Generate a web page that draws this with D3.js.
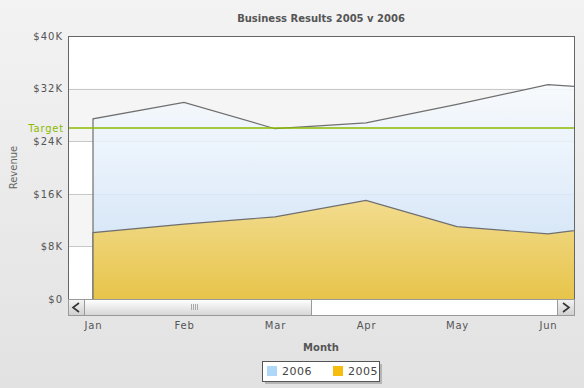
<!DOCTYPE html>
<html>
<head>
<meta charset="utf-8">
<script src="https://cdn.jsdelivr.net/npm/d3@7"></script>
<style>
  body { margin: 0; }
  svg { display: block; font-family: "DejaVu Sans", Verdana, sans-serif; }
</style>
</head>
<body>
<svg id="chart"></svg>
<script>
// Data (revenue in dollars)
const months = ["Jan", "Feb", "Mar", "Apr", "May", "Jun", "Jul"];
const revenue2006 = [27400, 29900, 25900, 26800, 29600, 32600, 31700];
const revenue2005 = [10100, 11400, 12500, 15000, 11000, 9900, 11600];
const targetValue = 26000;
const yTicks = [0, 8000, 16000, 24000, 32000, 40000];
const seriesNames = ["2006", "2005"];
const seriesColors = ["#AFD8F8", "#F6BD0F"];

const width = 584;
const height = 388;
const plot = { left: 68, right: 574, top: 36, bottom: 299 };
const step = 91;
const firstX = 93;

const svg = d3.select("#chart")
    .attr("width", width)
    .attr("height", height);

const defs = svg.append("defs");

// page background
const bg = defs.append("linearGradient").attr("id", "bg")
    .attr("x1", 0).attr("y1", 0).attr("x2", 0).attr("y2", 1);
bg.append("stop").attr("offset", "0%").attr("stop-color", "#f3f3f3");
bg.append("stop").attr("offset", "100%").attr("stop-color", "#e2e2e2");
svg.append("rect").attr("width", width).attr("height", height).attr("fill", "url(#bg)");

// area gradients
const g06 = defs.append("linearGradient").attr("id", "g06")
    .attr("x1", 0).attr("y1", 0).attr("x2", 0).attr("y2", 1);
g06.append("stop").attr("offset", "0%").attr("stop-color", "#f8fbfe");
g06.append("stop").attr("offset", "100%").attr("stop-color", "#c3dbf5");

const g05 = defs.append("linearGradient").attr("id", "g05")
    .attr("x1", 0).attr("y1", 0).attr("x2", 0).attr("y2", 1);
g05.append("stop").attr("offset", "0%").attr("stop-color", "#f2dc8e");
g05.append("stop").attr("offset", "100%").attr("stop-color", "#e7c44a");

const thumbGrad = defs.append("linearGradient").attr("id", "thumb")
    .attr("x1", 0).attr("y1", 0).attr("x2", 0).attr("y2", 1);
thumbGrad.append("stop").attr("offset", "0%").attr("stop-color", "#ffffff");
thumbGrad.append("stop").attr("offset", "100%").attr("stop-color", "#d6d6d6");

const btnGrad = defs.append("linearGradient").attr("id", "btn")
    .attr("x1", 0).attr("y1", 0).attr("x2", 0).attr("y2", 1);
btnGrad.append("stop").attr("offset", "0%").attr("stop-color", "#f4f4f4");
btnGrad.append("stop").attr("offset", "100%").attr("stop-color", "#cfcfcf");

defs.append("clipPath").attr("id", "plotClip")
    .append("rect")
    .attr("x", plot.left).attr("y", plot.top)
    .attr("width", plot.right - plot.left).attr("height", plot.bottom - plot.top);

// Scales
const x = d3.scalePoint()
    .domain(months)
    .range([firstX, firstX + step * (months.length - 1)]);

const y = d3.scaleLinear()
    .domain([0, 40000])
    .range([plot.bottom, plot.top]);

// Plot background bands
svg.append("rect")
    .attr("x", plot.left).attr("y", plot.top)
    .attr("width", plot.right - plot.left).attr("height", plot.bottom - plot.top)
    .attr("fill", "#ffffff");

svg.append("g").selectAll("rect")
    .data(d3.pairs(yTicks).filter((p, i) => i % 2 === 1))
    .enter()
    .append("rect")
    .attr("x", plot.left)
    .attr("width", plot.right - plot.left)
    .attr("y", d => y(d[1]))
    .attr("height", d => y(d[0]) - y(d[1]))
    .attr("fill", "#f5f5f5");

// Grid lines
svg.append("g").selectAll("line")
    .data(yTicks.slice(1, -1))
    .enter()
    .append("line")
    .attr("x1", plot.left).attr("x2", plot.right)
    .attr("y1", d => Math.round(y(d)) + 0.5)
    .attr("y2", d => Math.round(y(d)) + 0.5)
    .attr("stroke", "#c8c8c8");

// Areas
const plotG = svg.append("g").attr("clip-path", "url(#plotClip)");

const area = d3.area()
    .x((d, i) => x(months[i]))
    .y0(y(0))
    .y1(d => y(d));

const outline = vals => {
    const pts = vals.map((v, i) => [x(months[i]), y(v)]);
    return "M" + x(months[0]) + "," + y(0) + "L" + pts.map(p => p.join(",")).join("L");
};

plotG.append("path")
    .datum(revenue2006)
    .attr("d", area)
    .attr("fill", "url(#g06)")
    .attr("fill-opacity", 0.85);

plotG.append("path")
    .attr("d", outline(revenue2006))
    .attr("fill", "none")
    .attr("stroke", "#6f6f6f")
    .attr("stroke-width", 1.2);

plotG.append("path")
    .datum(revenue2005)
    .attr("d", area)
    .attr("fill", "url(#g05)");

plotG.append("path")
    .attr("d", outline(revenue2005))
    .attr("fill", "none")
    .attr("stroke", "#6f6f6f")
    .attr("stroke-width", 1.2);

// Target line
svg.append("line")
    .attr("x1", plot.left).attr("x2", plot.right)
    .attr("y1", y(targetValue)).attr("y2", y(targetValue))
    .attr("stroke", "#8BBA00")
    .attr("stroke-width", 1.5);

svg.append("text")
    .attr("x", plot.left - 4)
    .attr("y", y(targetValue))
    .attr("dy", "0.35em")
    .attr("text-anchor", "end")
    .attr("font-size", 10)
    .attr("letter-spacing", 0.8)
    .attr("fill", "#8BBA00")
    .text("Target");

// Plot border
svg.append("rect")
    .attr("x", plot.left + 0.5).attr("y", plot.top + 0.5)
    .attr("width", plot.right - plot.left).attr("height", plot.bottom - plot.top + 16)
    .attr("fill", "none")
    .attr("stroke", "#666666");

// Y axis
const yAxis = d3.axisLeft(y)
    .tickValues(yTicks)
    .tickSize(0)
    .tickPadding(5)
    .tickFormat(d => d === 0 ? "$0" : "$" + d / 1000 + "K");

svg.append("g")
    .attr("transform", `translate(${plot.left}, 0)`)
    .call(yAxis)
    .call(g => g.select(".domain").remove())
    .call(g => g.selectAll("text")
        .attr("font-family", "DejaVu Sans, Verdana, sans-serif")
        .attr("font-size", 10)
        .attr("letter-spacing", 1)
        .attr("fill", "#555555"));

// Scrollbar
const sbTop = plot.bottom;
const sbH = 16;
svg.append("rect")
    .attr("x", plot.left + 0.5).attr("y", sbTop + 0.5)
    .attr("width", plot.right - plot.left).attr("height", sbH)
    .attr("fill", "#ffffff").attr("stroke", "#999999");
svg.append("rect")
    .attr("x", plot.left + 0.5).attr("y", sbTop + 0.5)
    .attr("width", 16).attr("height", sbH)
    .attr("fill", "url(#btn)").attr("stroke", "#999999");
svg.append("rect")
    .attr("x", plot.right - 16.5).attr("y", sbTop + 0.5)
    .attr("width", 17).attr("height", sbH)
    .attr("fill", "url(#btn)").attr("stroke", "#999999");
svg.append("rect")
    .attr("x", plot.left + 16.5).attr("y", sbTop + 0.5)
    .attr("width", 227).attr("height", sbH)
    .attr("fill", "url(#thumb)").attr("stroke", "#999999");
svg.append("g").selectAll("line")
    .data([0, 1, 2, 3])
    .enter()
    .append("line")
    .attr("x1", d => 191.5 + d * 2).attr("x2", d => 191.5 + d * 2)
    .attr("y1", sbTop + 5).attr("y2", sbTop + 11)
    .attr("stroke", "#aaaaaa");
svg.append("path")
    .attr("d", `M${plot.left + 11},${sbTop + 4}L${plot.left + 5},${sbTop + 8.5}L${plot.left + 11},${sbTop + 13}`)
    .attr("fill", "none").attr("stroke", "#333333").attr("stroke-width", 1.6);
svg.append("path")
    .attr("d", `M${plot.right - 11},${sbTop + 4}L${plot.right - 5},${sbTop + 8.5}L${plot.right - 11},${sbTop + 13}`)
    .attr("fill", "none").attr("stroke", "#333333").attr("stroke-width", 1.6);

// X axis labels
const xAxis = d3.axisBottom(x).tickSize(0).tickPadding(6);
svg.append("g")
    .attr("transform", `translate(0, ${sbTop + sbH + 1})`)
    .call(xAxis)
    .call(g => g.select(".domain").remove())
    .call(g => g.selectAll(".tick").filter(d => x(d) > plot.right).remove())
    .call(g => g.selectAll("text")
        .attr("font-family", "DejaVu Sans, Verdana, sans-serif")
        .attr("font-size", 10)
        .attr("letter-spacing", 0.8)
        .attr("fill", "#555555"));

// Title
svg.append("text")
    .attr("x", (plot.left + plot.right) / 2)
    .attr("y", 22)
    .attr("text-anchor", "middle")
    .attr("font-size", 10)
    .attr("font-weight", "bold")
    .attr("fill", "#555555")
    .text("Business Results 2005 v 2006");

// Axis titles
svg.append("text")
    .attr("x", (plot.left + plot.right) / 2)
    .attr("y", 351)
    .attr("text-anchor", "middle")
    .attr("font-size", 10)
    .attr("font-weight", "bold")
    .attr("fill", "#555555")
    .text("Month");

svg.append("text")
    .attr("transform", "rotate(-90)")
    .attr("x", -(plot.top + plot.bottom) / 2)
    .attr("y", 17)
    .attr("text-anchor", "middle")
    .attr("font-size", 10)
    .attr("fill", "#666666")
    .text("Revenue");

// Legend
const legend = svg.append("g").attr("transform", "translate(262, 361)");
legend.append("rect")
    .attr("x", 3).attr("y", 3).attr("width", 117).attr("height", 20)
    .attr("fill", "#b5b5b5");
legend.append("rect")
    .attr("x", 0.5).attr("y", 0.5).attr("width", 117).attr("height", 20)
    .attr("fill", "#ffffff").attr("stroke", "#555555");
const items = legend.selectAll(".item")
    .data(seriesNames)
    .enter()
    .append("g")
    .attr("class", "item")
    .attr("transform", (d, i) => `translate(${5 + i * 66}, 0)`);
items.append("rect")
    .attr("x", 0).attr("y", 5).attr("width", 10).attr("height", 10)
    .attr("fill", (d, i) => seriesColors[i]);
items.append("text")
    .attr("x", 15).attr("y", 14)
    .attr("font-size", 11)
    .attr("letter-spacing", 0.5)
    .attr("fill", "#444444")
    .text(d => d);
</script>
</body>
</html>
